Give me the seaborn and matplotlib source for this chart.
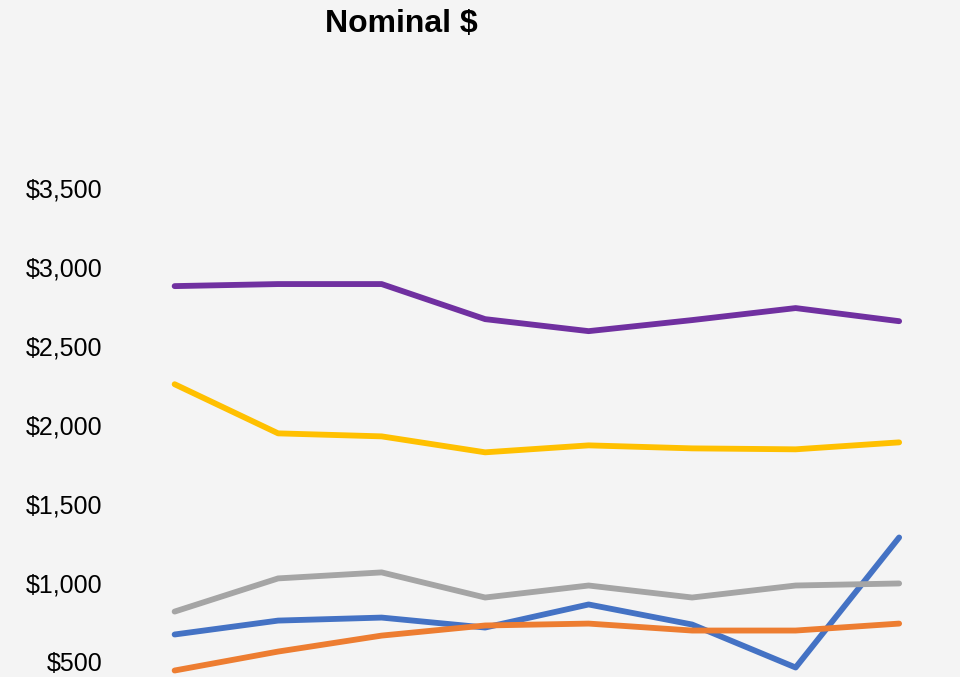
import matplotlib
matplotlib.use("Agg")
import matplotlib.pyplot as plt
import matplotlib.ticker as mticker
import seaborn as sns
import pandas as pd

# Data (8 periods, x labels are cropped out)
periods = [1, 2, 3, 4, 5, 6, 7, 8]
series_names = ['Blue', 'Orange', 'Gray', 'Yellow', 'Purple']
blue = [674, 762, 781, 718, 864, 737, 465, 1288]
orange = [446, 566, 667, 731, 743, 699, 699, 743]
gray = [819, 1029, 1067, 908, 984, 908, 984, 997]
yellow = [2258, 1947, 1928, 1827, 1871, 1852, 1846, 1890]
purple = [2879, 2892, 2892, 2670, 2594, 2664, 2740, 2657]
y_ticks = [500, 1000, 1500, 2000, 2500, 3000, 3500]

COLORS = ['#4472C4', '#ED7D31', '#A5A5A5', '#FFC000', '#7030A0']
BG = '#F4F4F4'

sns.set_theme(style="white")
plt.rcParams['font.family'] = ['Liberation Sans', 'DejaVu Sans']

df = pd.DataFrame({
    'Period': periods * len(series_names),
    'Value': blue + orange + gray + yellow + purple,
    'Series': sum([[n] * len(periods) for n in series_names], []),
})

fig = plt.figure(figsize=(9.6, 6.77), dpi=100, facecolor=BG)
# axes run past the bottom edge of the figure, as in the cropped reference
ax = fig.add_axes([0.128, -0.0945, 0.8625, 0.8168])
ax.set_facecolor(BG)

sns.lineplot(data=df, x='Period', y='Value', hue='Series', hue_order=series_names,
             palette=COLORS, linewidth=4.2, sort=False, legend=False, ax=ax,
             solid_capstyle='round', solid_joinstyle='round')

ax.set_xlim(0.5, 8.5)
ax.set_ylim(0, 3500)
ax.set_yticks(y_ticks)
ax.yaxis.set_major_formatter(mticker.FuncFormatter(lambda v, p: f"${v:,.0f}"))
ax.tick_params(axis='y', labelsize=18, colors='black', length=0, pad=15)
ax.set_xticks([])
ax.set_xlabel('')
ax.set_ylabel('')
for s in ax.spines.values():
    s.set_visible(False)
for line in ax.lines:
    line.set_clip_on(False)

fig.text(401 / 960, 1 - 24 / 677, 'Nominal $', ha='center', va='center',
         fontsize=23, fontweight='bold', color='black')

fig.savefig('out.png', dpi=100, facecolor=BG)
